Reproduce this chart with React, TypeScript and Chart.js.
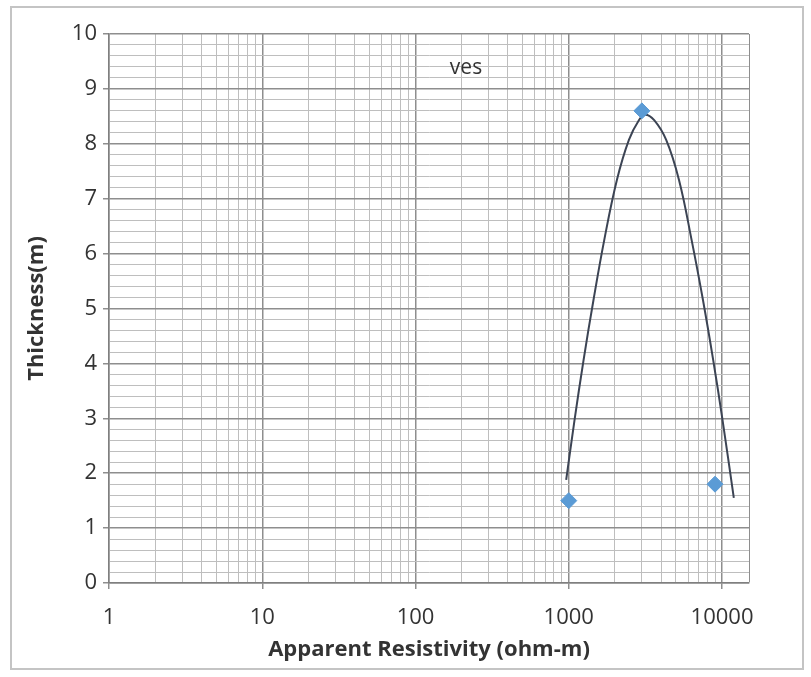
import React, { useEffect, useRef } from "react";
import { Chart, registerables } from "chart.js";

Chart.register(...registerables);

// Measured data points (apparent resistivity, thickness)
const resistivity = [1000, 3000, 9000];
const thickness = [1.5, 8.6, 1.8];

// Trend curve
const trendX = [962, 1091, 1249, 1449, 1705, 2061, 2469, 2868, 3153, 3610, 4323, 5240, 6331, 7516, 8761, 10075, 11940];
const trendY = [1.88, 2.97, 4.06, 5.15, 6.25, 7.34, 8.07, 8.43, 8.53, 8.43, 8.07, 7.34, 6.25, 5.15, 4.06, 2.97, 1.55];

// Axis labels
const xLabelValues = [1, 10, 100, 1000, 10000];
const yLabelValues = [0, 1, 2, 3, 4, 5, 6, 7, 8, 9, 10];

const chartTitle = "ves";
const xTitle = "Apparent Resistivity (ohm-m)";
const yTitle = "Thickness(m)";

const FONT = '"Open Sans", "Liberation Sans", sans-serif';
const TEXT = "#333333";
const MAJOR = "#8e8e8e";
const MINOR = "#bebebe";

const isXMajor = (v: number) => xLabelValues.includes(v);
const isYMajor = (v: number) => yLabelValues.some((l) => Math.abs(l - v) < 1e-6);

export default function App() {
  const ref = useRef<HTMLCanvasElement | null>(null);

  useEffect(() => {
    if (!ref.current) return;

    const titlePlugin = {
      id: "vesTitle",
      afterDatasetsDraw(chart: any) {
        const { ctx, chartArea } = chart;
        ctx.save();
        ctx.font = `21px ${FONT}`;
        ctx.fillStyle = TEXT;
        ctx.textAlign = "center";
        ctx.textBaseline = "middle";
        ctx.fillText(chartTitle, chartArea.left + 357, chartArea.top + 34);
        ctx.restore();
      },
    };

    const chart = new Chart(ref.current, {
      type: "scatter",
      data: {
        datasets: [
          {
            label: "ves",
            data: resistivity.map((x, i) => ({ x, y: thickness[i] })),
            backgroundColor: "#5b9bd5",
            borderColor: "#5b9bd5",
            pointStyle: "rectRot",
            pointRadius: 8,
            pointBorderWidth: 1,
            showLine: false,
          },
          {
            label: "trend",
            data: trendX.map((x, i) => ({ x, y: trendY[i] })),
            borderColor: "#3c4454",
            borderWidth: 2,
            pointRadius: 0,
            showLine: true,
            tension: 0.4,
            fill: false,
          },
        ],
      },
      options: {
        responsive: false,
        animation: false,
        layout: { padding: { top: 34, right: 62, left: 0, bottom: 0 } },
        plugins: {
          legend: { display: false },
          tooltip: { enabled: false },
          title: { display: false },
        },
        scales: {
          x: {
            type: "logarithmic",
            min: 1,
            max: 15000,
            afterBuildTicks: (scale: any) => {
              const vals: number[] = [];
              for (let p = 1; p <= 1000; p *= 10) {
                for (let m = 1; m <= 9; m++) vals.push(m * p);
              }
              vals.push(10000);
              vals.push(15000);
              scale.ticks = vals.map((v) => ({ value: v, major: isXMajor(v) }));
            },
            afterFit: (scale: any) => {
              scale.height = 94;
            },
            ticks: {
              autoSkip: false,
              maxRotation: 0,
              minRotation: 0,
              padding: 16,
              color: TEXT,
              font: { family: FONT, size: 22 },
              callback: (v: any) => (isXMajor(Number(v)) ? String(v) : ""),
            },
            grid: {
              drawTicks: true,
              tickLength: 6,
              color: (c: any) => (c.tick && (isXMajor(c.tick.value) || c.tick.value === 15000) ? MAJOR : MINOR),
              lineWidth: (c: any) => (c.tick && isXMajor(c.tick.value) ? 1.5 : 1),
              tickColor: (c: any) => (c.tick && isXMajor(c.tick.value) ? MAJOR : "rgba(0,0,0,0)"),
            },
            border: { display: true, color: "#7f7f7f", width: 1.5 },
            title: {
              display: true,
              text: xTitle,
              color: TEXT,
              font: { family: FONT, size: 22, weight: "bold" },
              padding: { top: 0, bottom: 14 },
            },
          },
          y: {
            type: "linear",
            min: 0,
            max: 10,
            afterBuildTicks: (scale: any) => {
              const vals: number[] = [];
              for (let i = 0; i <= 50; i++) vals.push(Math.round(i * 2) / 10);
              scale.ticks = vals.map((v) => ({ value: v, major: isYMajor(v) }));
            },
            afterFit: (scale: any) => {
              scale.width = 109;
            },
            ticks: {
              autoSkip: false,
              padding: 6,
              color: TEXT,
              font: { family: FONT, size: 22 },
              callback: (v: any) => (isYMajor(Number(v)) ? String(Math.round(Number(v))) : ""),
            },
            grid: {
              drawTicks: true,
              tickLength: 6,
              color: (c: any) => (c.tick && isYMajor(c.tick.value) ? MAJOR : MINOR),
              lineWidth: (c: any) => (c.tick && isYMajor(c.tick.value) ? 1.5 : 1),
              tickColor: (c: any) => (c.tick && isYMajor(c.tick.value) ? MAJOR : "rgba(0,0,0,0)"),
            },
            border: { display: true, color: "#7f7f7f", width: 1.5 },
            title: {
              display: true,
              text: yTitle,
              color: TEXT,
              font: { family: FONT, size: 22, weight: "bold" },
              padding: { top: 24, bottom: 0 },
            },
          },
        },
      },
      plugins: [titlePlugin],
    });

    let alive = true;
    if ((document as any).fonts && (document as any).fonts.load) {
      Promise.all([
        (document as any).fonts.load(`22px "Open Sans"`),
        (document as any).fonts.load(`bold 22px "Open Sans"`),
      ]).then(() => {
        if (alive) chart.update();
      }).catch(() => {});
    }

    return () => {
      alive = false;
      chart.destroy();
    };
  }, []);

  return (
    <div
      style={{
        position: "absolute",
        left: 0,
        top: 0,
        width: 811,
        height: 677,
        background: "#ffffff",
        overflow: "hidden",
      }}
    >
      <div
        style={{
          position: "absolute",
          left: 10,
          top: 6,
          width: 794,
          height: 664,
          border: "2px solid #c4c4c4",
          boxSizing: "border-box",
        }}
      />
      <canvas
        ref={ref}
        width={811}
        height={677}
        style={{ position: "absolute", left: 0, top: 0, width: 811, height: 677 }}
      />
    </div>
  );
}
